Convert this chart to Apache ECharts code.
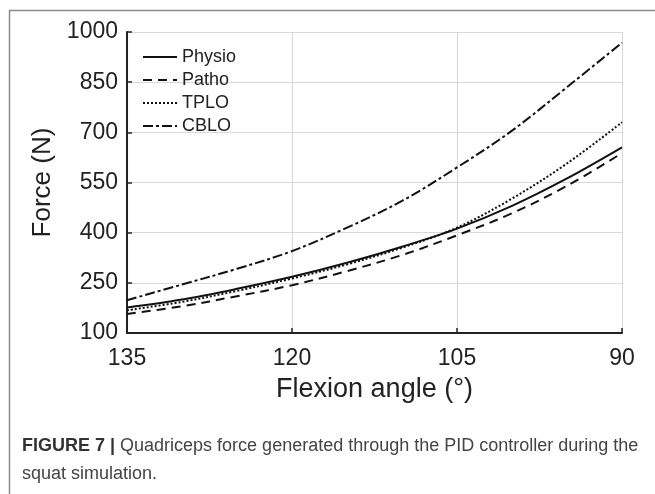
<!DOCTYPE html>
<html>
<head>
<meta charset="utf-8">
<script src="https://cdn.jsdelivr.net/npm/echarts@6/dist/echarts.min.js"></script>
<style>
html,body{margin:0;padding:0;background:#fff;}
#chart{width:655px;height:494px;}
</style>
</head>
<body>
<div id="chart"></div>
<script>
const angles = [135, 130, 125, 120, 115, 110, 105, 100, 95, 90];
const physio = [176, 200, 232, 268, 310, 358, 412, 480, 562, 655];
const patho  = [157, 180, 210, 243, 285, 333, 392, 458, 540, 638];
const tplo   = [168, 193, 226, 263, 305, 355, 415, 502, 607, 730];
const cblo   = [198, 245, 292, 345, 415, 495, 595, 705, 835, 968];
const seriesNames = ['Physio', 'Patho', 'TPLO', 'CBLO'];
const xTicks = [135, 120, 105, 90];
const yTicks = [100, 250, 400, 550, 700, 850, 1000];
const captionBold = 'FIGURE 7 |';
const captionLine1 = ' Quadriceps force generated through the PID controller during the';
const captionLine2 = 'squat simulation.';

const pair = arr => angles.map((a, i) => [a, arr[i]]);
const dashStyles = ['solid', [9, 6], [2, 2], [10, 3, 3, 3]];
const dataSets = [physio, patho, tplo, cblo];
const FONT = '"Liberation Sans", Arial, Helvetica, sans-serif';

const chart = echarts.init(document.getElementById('chart'), null, {renderer: 'canvas'});
chart.setOption({
  animation: false,
  backgroundColor: '#fff',
  grid: {left: 127, right: 33, top: 32, bottom: 161, containLabel: false},
  legend: {
    orient: 'vertical', left: 142, top: 48, padding: 0,
    itemWidth: 34, itemHeight: 14, itemGap: 5,
    itemStyle: {opacity: 0},
    textStyle: {fontFamily: FONT, fontSize: 18, color: '#222'},
    data: seriesNames
  },
  xAxis: {
    type: 'value', inverse: true, min: xTicks[xTicks.length - 1], max: xTicks[0], interval: 15,
    name: 'Flexion angle (°)', nameLocation: 'middle', nameGap: 43,
    nameTextStyle: {fontFamily: FONT, fontSize: 27, color: '#222'},
    axisLine: {lineStyle: {color: '#222', width: 2}},
    axisTick: {show: true, inside: true, length: 5, lineStyle: {color: '#222', width: 1.5}},
    axisLabel: {fontFamily: FONT, fontSize: 23, color: '#222', margin: 14},
    splitLine: {show: true, lineStyle: {color: '#d9d9d9', width: 1.2}}
  },
  yAxis: {
    type: 'value', min: yTicks[0], max: yTicks[yTicks.length - 1], interval: 150,
    name: 'Force (N)', nameLocation: 'middle', nameGap: 58, nameRotate: 90,
    nameTextStyle: {fontFamily: FONT, fontSize: 26, color: '#222'},
    axisLine: {show: true, lineStyle: {color: '#222', width: 2}},
    axisTick: {show: true, inside: true, length: 5, lineStyle: {color: '#222', width: 1.5}},
    axisLabel: {fontFamily: FONT, fontSize: 23, color: '#222', margin: 9,
                formatter: v => String(v)},
    splitLine: {show: true, lineStyle: {color: '#d9d9d9', width: 1.2}}
  },
  series: seriesNames.map((n, i) => ({
    name: n, type: 'line', data: pair(dataSets[i]), smooth: 0.35,
    symbol: 'none', z: 3 + i,
    lineStyle: {color: '#111', width: 2, type: dashStyles[i]},
    itemStyle: {color: '#111'}
  })),
  graphic: [
    {type: 'rect', left: 7, top: 8, shape: {width: 700, height: 600},
     style: {fill: null, stroke: '#8a8a8a', lineWidth: 1.5}, silent: true},
    {type: 'text', left: 22, top: 437,
     style: {
       rich: {
         b: {fontFamily: FONT, fontSize: 18, fontWeight: 'bold', fill: '#333', lineHeight: 28},
         r: {fontFamily: FONT, fontSize: 18, fill: '#444', lineHeight: 28}
       },
       text: '{b|' + captionBold + '}{r|' + captionLine1 + '}\n{r|' + captionLine2 + '}'
     }}
  ]
});
</script>
</body>
</html>
